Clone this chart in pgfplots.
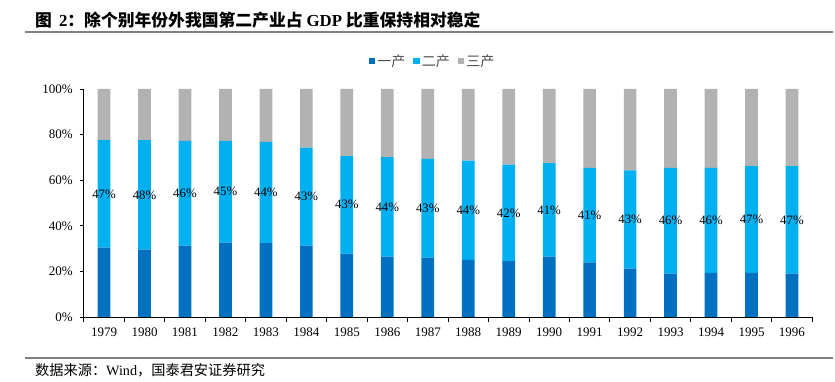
\documentclass[border=0pt]{standalone}
\usepackage{pgfplots}
\pgfplotsset{compat=1.18}
\usepackage{fontspec}
\setmainfont{Liberation Serif}
\newfontfamily\cjk{Noto Sans CJK SC}
\definecolor{c1}{RGB}{0,112,192}
\definecolor{c2}{RGB}{0,176,240}
\definecolor{c3}{RGB}{178,178,178}
\definecolor{rule}{RGB}{128,128,128}
\begin{document}
\begin{tikzpicture}
\useasboundingbox (0pt,0pt) rectangle (835pt,382pt);
\draw[rule, line width=1.5pt] (25pt,350pt) -- (833pt,350pt);
\node[anchor=west, inner sep=0pt, font=\fontsize{16.8}{19}\selectfont\bfseries] at (35pt,361.5pt)
  {{\cjk 图}\hspace{7pt}2{\cjk ：除个别年份外我国第二产业占}\hspace{4pt}GDP\hspace{4pt}{\cjk 比重保持相对稳定}};
\draw[rule, line width=1.2pt] (25pt,24pt) -- (833pt,24pt);
\node[anchor=west, inner sep=0pt, font=\fontsize{14.2}{16}\selectfont] at (35pt,12pt)
  {{\cjk 数据来源：}Wind{\cjk ，国泰君安证券研究}};
\begin{axis}[
  at={(83.8pt,65pt)}, anchor=south west,
  scale only axis, width=728.4pt, height=228pt,
  ybar stacked, bar width=12.7pt,
  xmin=-0.5, xmax=17.5, ymin=0, ymax=100,
  axis x line*=bottom, axis y line*=left,
  axis line style={black, line width=0.8pt},
  xtick={0,...,17},
  xticklabels={1979,1980,1981,1982,1983,1984,1985,1986,1987,1988,1989,1990,1991,1992,1993,1994,1995,1996},
  minor xtick={-0.5,0.5,...,17.5},
  major x tick style={draw=none},
  minor x tick style={black, line width=0.8pt},
  ytick={0,20,40,60,80,100},
  yticklabel={\pgfmathprintnumber{\tick}\%},
  y tick style={black, line width=0.8pt},
  tick align=outside,
  major tick length=4pt, minor tick length=5pt,
  ticklabel style={font=\fontsize{13}{15}\selectfont},
  xticklabel style={yshift=-3.5pt},
  yticklabel style={xshift=-3.5pt},
  /pgf/number format/assume math mode=true,
  legend style={at={(0.479,1.123)}, anchor=center, draw=none, fill=none,
    legend columns=3, font=\cjk\fontsize{14}{16}\selectfont\color{black!70},
    /tikz/every even column/.append style={column sep=6pt}},
  legend image code/.code={\fill[#1] (0pt,-3.25pt) rectangle (6.5pt,3.25pt);},
]
\addplot[fill=c1, draw=none] coordinates {
(0,30.4) (1,29.5) (2,31.3) (3,32.6) (4,32.4) (5,31.3) (6,27.8) (7,26.5) (8,26.0)
(9,25.0) (10,24.5) (11,26.5) (12,24.0) (13,21.2) (14,19.0) (15,19.3) (16,19.4) (17,19.0)};
\addplot[fill=c2, draw=none] coordinates {
(0,47.2) (1,48.1) (2,45.9) (3,44.6) (4,44.4) (5,43.0) (6,42.8) (7,43.6) (8,43.3)
(9,43.6) (10,42.3) (11,41.0) (12,41.4) (13,43.1) (14,46.4) (15,46.1) (16,46.8) (17,47.2)};
\addplot[fill=c3, draw=none] coordinates {
(0,22.4) (1,22.4) (2,22.8) (3,22.8) (4,23.2) (5,25.7) (6,29.4) (7,29.9) (8,30.7)
(9,31.4) (10,33.2) (11,32.5) (12,34.6) (13,35.7) (14,34.6) (15,34.6) (16,33.8) (17,33.8)};
\legend{一产,二产,三产}
\end{axis}
\begin{axis}[
  at={(83.8pt,65pt)}, anchor=south west,
  scale only axis, width=728.4pt, height=228pt,
  xmin=-0.5, xmax=17.5, ymin=0, ymax=100,
  hide axis,
]
\addplot[draw=none, mark=none, nodes near coords, point meta=explicit symbolic,
  every node near coord/.style={anchor=center, font=\fontsize{12.8}{14}\selectfont}]
  table[meta=l] {
x y l
0 54.0 47\%
1 53.55 48\%
2 54.25 46\%
3 54.9 45\%
4 54.6 44\%
5 52.8 43\%
6 49.2 43\%
7 48.3 44\%
8 47.65 43\%
9 46.8 44\%
10 45.65 42\%
11 47.0 41\%
12 44.7 41\%
13 42.75 43\%
14 42.2 46\%
15 42.35 46\%
16 42.8 47\%
17 42.6 47\%
};
\end{axis}
\end{tikzpicture}
\end{document}
